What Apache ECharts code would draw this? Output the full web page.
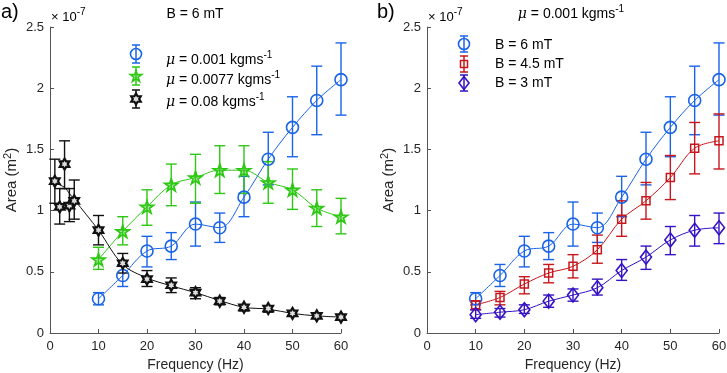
<!DOCTYPE html>
<html>
<head>
<meta charset="utf-8">
<script src="https://cdn.jsdelivr.net/npm/echarts@6/dist/echarts.min.js"></script>
<style>
html, body {margin: 0; padding: 0; background: #fff;}
#chart {width: 727px; height: 373px;}
</style>
</head>
<body>
<div id="chart"></div>
<script>
// values are in units of 1e-7 m^2
var freq = [10, 15, 20, 25, 30, 35, 40, 45, 50, 55, 60]
var freqLow = [1, 2, 3, 4, 5, 10, 15, 20, 25, 30, 35, 40, 45, 50, 55, 60]

// mu = 0.001, B = 6 mT
var blueMean = [0.28, 0.47, 0.67, 0.71, 0.89, 0.86, 1.11, 1.42, 1.68, 1.90, 2.07]
var blueLow = [0.23, 0.38, 0.54, 0.60, 0.71, 0.74, 0.95, 1.21, 1.44, 1.62, 1.78]
var blueHigh = [0.33, 0.56, 0.79, 0.82, 1.07, 0.98, 1.28, 1.64, 1.93, 2.18, 2.37]

// mu = 0.0077
var greenMean = [0.60, 0.83, 1.03, 1.21, 1.27, 1.33, 1.33, 1.23, 1.17, 1.02, 0.95]
var greenLow = [0.52, 0.72, 0.88, 1.04, 1.06, 1.14, 1.14, 1.06, 1.01, 0.87, 0.81]
var greenHigh = [0.70, 0.95, 1.17, 1.38, 1.46, 1.53, 1.53, 1.40, 1.34, 1.17, 1.10]

// mu = 0.08
var blackMean = [1.24, 1.03, 1.38, 1.04, 1.08, 0.84, 0.57, 0.44, 0.39, 0.33, 0.26, 0.21, 0.20, 0.16, 0.14, 0.13]
var blackLow = [1.06, 0.89, 1.18, 0.91, 0.93, 0.72, 0.49, 0.38, 0.33, 0.28, 0.23, 0.18, 0.17, 0.14, 0.12, 0.11]
var blackHigh = [1.42, 1.18, 1.57, 1.18, 1.25, 0.96, 0.65, 0.51, 0.45, 0.37, 0.29, 0.23, 0.22, 0.18, 0.16, 0.15]
var blackFit = [1.24, 1.21, 1.19, 1.14, 1.09, 0.84, 0.56, 0.45, 0.385, 0.33, 0.265, 0.21, 0.195, 0.16, 0.14, 0.13]

// B = 4.5 mT
var redMean = [0.23, 0.29, 0.40, 0.49, 0.545, 0.68, 0.93, 1.08, 1.27, 1.51, 1.57]
var redLow = [0.19, 0.23, 0.32, 0.41, 0.45, 0.57, 0.79, 0.93, 1.09, 1.30, 1.34]
var redHigh = [0.26, 0.34, 0.46, 0.56, 0.64, 0.80, 1.08, 1.23, 1.45, 1.72, 1.79]

// B = 3 mT
var purpleMean = [0.15, 0.17, 0.19, 0.26, 0.31, 0.37, 0.51, 0.62, 0.76, 0.84, 0.86]
var purpleLow = [0.12, 0.13, 0.16, 0.21, 0.26, 0.31, 0.43, 0.52, 0.64, 0.71, 0.73]
var purpleHigh = [0.19, 0.20, 0.23, 0.31, 0.36, 0.44, 0.60, 0.71, 0.87, 0.96, 0.98]

var yTicks = [0, 0.5, 1, 1.5, 2, 2.5]
var xTicks = [0, 10, 20, 30, 40, 50, 60]

var BLUE = '#1a64e8', GREEN = '#2ec814', BLACK = '#111111', RED = '#c8161c', PURPLE = '#3512c4'
var FONT = 'Liberation Sans'

var STAR = 'path://M50,0 L61.8,35.4 L98.9,35.4 L68.9,57.3 L80.3,92.7 L50,70.8 L19.7,92.7 L31.1,57.3 L1.1,35.4 L38.2,35.4 Z'
var HEXA = 'path://M50,0 L64.43,25 L93.3,25 L78.87,50 L93.3,75 L64.43,75 L50,100 L35.57,75 L6.7,75 L21.13,50 L6.7,25 L35.57,25 Z'

var myChart = echarts.init(document.getElementById('chart'))

function zip2(xs, ys) {
    return xs.map(function(x, i) { return [x, ys[i]] })
}
function zip3(xs, lo, hi) {
    return xs.map(function(x, i) { return [x, lo[i], hi[i]] })
}

function errSeries(idx, xs, lo, hi, color) {
    return {
        type: 'custom',
        xAxisIndex: idx, yAxisIndex: idx,
        data: zip3(xs, lo, hi),
        encode: {x: 0, y: [1, 2]},
        z: 3,
        renderItem: function(params, api) {
            var a = api.coord([api.value(0), api.value(1)])
            var b = api.coord([api.value(0), api.value(2)])
            var w = 5.5
            var st = {stroke: color, lineWidth: 1.4}
            return {type: 'group', children: [
                {type: 'line', shape: {x1: a[0], y1: a[1], x2: b[0], y2: b[1]}, style: st},
                {type: 'line', shape: {x1: a[0] - w, y1: a[1], x2: a[0] + w, y2: a[1]}, style: st},
                {type: 'line', shape: {x1: b[0] - w, y1: b[1], x2: b[0] + w, y2: b[1]}, style: st}
            ]}
        }
    }
}

function lineSeries(idx, xs, ys, color) {
    return {
        type: 'line', xAxisIndex: idx, yAxisIndex: idx,
        data: zip2(xs, ys), smooth: 0.35, showSymbol: false, z: 2,
        lineStyle: {color: color, width: 1}
    }
}

function markSeries(idx, xs, ys, symbol, size, color, fill, bw) {
    return {
        type: 'scatter', xAxisIndex: idx, yAxisIndex: idx,
        data: zip2(xs, ys), symbol: symbol, symbolSize: size, symbolKeepAspect: true, z: 4,
        itemStyle: {color: fill, borderColor: color, borderWidth: bw, opacity: 1}
    }
}

function axisX(idx) {
    return {
        gridIndex: idx, type: 'value', min: xTicks[0], max: xTicks[xTicks.length - 1], interval: 10,
        axisLine: {show: true, onZero: false, lineStyle: {color: '#555', width: 1}},
        axisTick: {show: true, inside: true, length: 4, lineStyle: {color: '#555'}},
        axisLabel: {color: '#262626', fontSize: 13, fontFamily: FONT, margin: 7},
        splitLine: {show: false},
        name: 'Frequency (Hz)', nameLocation: 'middle', nameGap: 23,
        nameTextStyle: {color: '#262626', fontSize: 14, fontFamily: FONT}
    }
}
function axisY(idx) {
    return {
        gridIndex: idx, type: 'value', min: yTicks[0], max: yTicks[yTicks.length - 1], interval: 0.5,
        axisLine: {show: true, onZero: false, lineStyle: {color: '#555', width: 1}},
        axisTick: {show: true, inside: true, length: 4, lineStyle: {color: '#555'}},
        axisLabel: {color: '#262626', fontSize: 13, fontFamily: FONT, margin: 6},
        splitLine: {show: false},
        name: 'Area (m{sup|2})', nameLocation: 'middle', nameGap: 26, nameRotate: 90,
        nameTextStyle: {color: '#262626', fontSize: 15, fontFamily: FONT, lineHeight: 20,
            rich: {sup: {fontSize: 11, fontFamily: FONT, color: '#262626', verticalAlign: 'top', lineHeight: 11}}}
    }
}

// rich text with superscript
var supRich = {
    mu: {fontStyle: 'italic', fontSize: 14, fontFamily: 'DejaVu Serif', fill: '#000', lineHeight: 20},
    sup: {fontSize: 10, fontFamily: FONT, fill: '#000', verticalAlign: 'top', lineHeight: 10}
}
function richText(x, y, str, align, size) {
    return {
        type: 'text', x: x, y: y, z: 10,
        style: {text: str, fontSize: size || 14, fontFamily: FONT, fill: '#000', lineHeight: 20,
            align: align || 'left', verticalAlign: 'middle', rich: supRich}
    }
}

// legend icon shapes
function starPts(cx, cy, r, n, ratio) {
    var pts = []
    for (var k = 0; k < n * 2; k++) {
        var ang = -Math.PI / 2 + k * Math.PI / n
        var rr = k % 2 === 0 ? r : r * ratio
        pts.push([cx + rr * Math.cos(ang), cy + rr * Math.sin(ang)])
    }
    return pts
}
function legendIcon(cx, cy, half, color, kind) {
    var st = {stroke: color, lineWidth: 1.5, fill: null}
    var ch = [
        {type: 'line', shape: {x1: cx, y1: cy - half, x2: cx, y2: cy + half}, style: st},
        {type: 'line', shape: {x1: cx - 4, y1: cy - half, x2: cx + 4, y2: cy - half}, style: st},
        {type: 'line', shape: {x1: cx - 4, y1: cy + half, x2: cx + 4, y2: cy + half}, style: st}
    ]
    if (kind === 'circle') ch.push({type: 'circle', shape: {cx: cx, cy: cy, r: 5.5}, style: {stroke: color, lineWidth: 1.6, fill: 'rgba(0,0,0,0)'}})
    if (kind === 'star') ch.push({type: 'polygon', shape: {points: starPts(cx, cy + 0.5, 6, 5, 0.382)}, style: {stroke: color, lineWidth: 1.6, fill: 'rgba(46,200,20,0.4)'}})
    if (kind === 'hexa') ch.push({type: 'polygon', shape: {points: starPts(cx, cy, 5.5, 6, 0.577)}, style: {stroke: color, lineWidth: 2.2, fill: '#ddd'}})
    if (kind === 'square') ch.push({type: 'rect', shape: {x: cx - 3.5, y: cy - 3.5, width: 7, height: 7}, style: {stroke: color, lineWidth: 1.5, fill: 'rgba(0,0,0,0)'}})
    if (kind === 'diamond') ch.push({type: 'polygon', shape: {points: [[cx, cy - 6.5], [cx + 5, cy], [cx, cy + 6.5], [cx - 5, cy]]}, style: {stroke: color, lineWidth: 1.6, fill: 'rgba(0,0,0,0)'}})
    return {type: 'group', z: 10, children: ch}
}

var option = {
    animation: false,
    backgroundColor: '#fff',
    grid: [
        {left: 50, right: 386, top: 27, bottom: 40, outerBoundsMode: 'none'},
        {left: 427, right: 8, top: 27, bottom: 40, outerBoundsMode: 'none'}
    ],
    xAxis: [axisX(0), axisX(1)],
    yAxis: [axisY(0), axisY(1)],
    series: [
        // panel a
        lineSeries(0, freq, blueMean, BLUE),
        lineSeries(0, freq, greenMean, GREEN),
        lineSeries(0, freqLow, blackFit, BLACK),
        errSeries(0, freq, blueLow, blueHigh, BLUE),
        errSeries(0, freq, greenLow, greenHigh, GREEN),
        errSeries(0, freqLow, blackLow, blackHigh, BLACK),
        markSeries(0, freq, blueMean, 'circle', 12, BLUE, 'rgba(0,0,0,0)', 1.6),
        markSeries(0, freq, greenMean, STAR, 13, GREEN, 'rgba(46,200,20,0.4)', 1.7),
        markSeries(0, freqLow, blackMean, HEXA, 11, BLACK, '#ddd', 2.2),
        // panel b
        lineSeries(1, freq, blueMean, BLUE),
        lineSeries(1, freq, redMean, RED),
        lineSeries(1, freq, purpleMean, PURPLE),
        errSeries(1, freq, blueLow, blueHigh, BLUE),
        errSeries(1, freq, redLow, redHigh, RED),
        errSeries(1, freq, purpleLow, purpleHigh, PURPLE),
        markSeries(1, freq, blueMean, 'circle', 12, BLUE, 'rgba(0,0,0,0)', 1.6),
        markSeries(1, freq, redMean, 'rect', 8, RED, 'rgba(0,0,0,0)', 1.5),
        markSeries(1, freq, purpleMean, 'diamond', [11, 14], PURPLE, 'rgba(0,0,0,0)', 1.6)
    ],
    graphic: [
        {type: 'text', x: 1, y: 12, style: {text: 'a)', fontSize: 20, fontFamily: FONT, fill: '#000', verticalAlign: 'middle'}},
        {type: 'text', x: 377, y: 12, style: {text: 'b)', fontSize: 20, fontFamily: FONT, fill: '#000', verticalAlign: 'middle'}},
        richText(51, 17, '\u00d7 10{sup|-7}', 'left', 13),
        richText(428, 17, '\u00d7 10{sup|-7}', 'left', 13),
        richText(195, 14, 'B = 6 mT', 'center', 14),
        richText(571, 14, '{mu|\u03bc} = 0.001 kgms{sup|-1}', 'center', 14),
        // legend a
        legendIcon(136, 54, 9, BLUE, 'circle'),
        legendIcon(136, 76, 9, GREEN, 'star'),
        legendIcon(136, 99, 9, BLACK, 'hexa'),
        richText(166, 60, '{mu|\u03bc} = 0.001 kgms{sup|-1}'),
        richText(166, 80, '{mu|\u03bc} = 0.0077 kgms{sup|-1}'),
        richText(166, 102, '{mu|\u03bc} = 0.08 kgms{sup|-1}'),
        // legend b
        legendIcon(464, 44, 8, BLUE, 'circle'),
        legendIcon(464, 64, 8, RED, 'square'),
        legendIcon(464, 83, 8, PURPLE, 'diamond'),
        richText(495, 45, 'B = 6 mT'),
        richText(495, 64, 'B = 4.5 mT'),
        richText(495, 83, 'B = 3 mT')
    ]
}

myChart.setOption(option)
</script>
</body>
</html>
